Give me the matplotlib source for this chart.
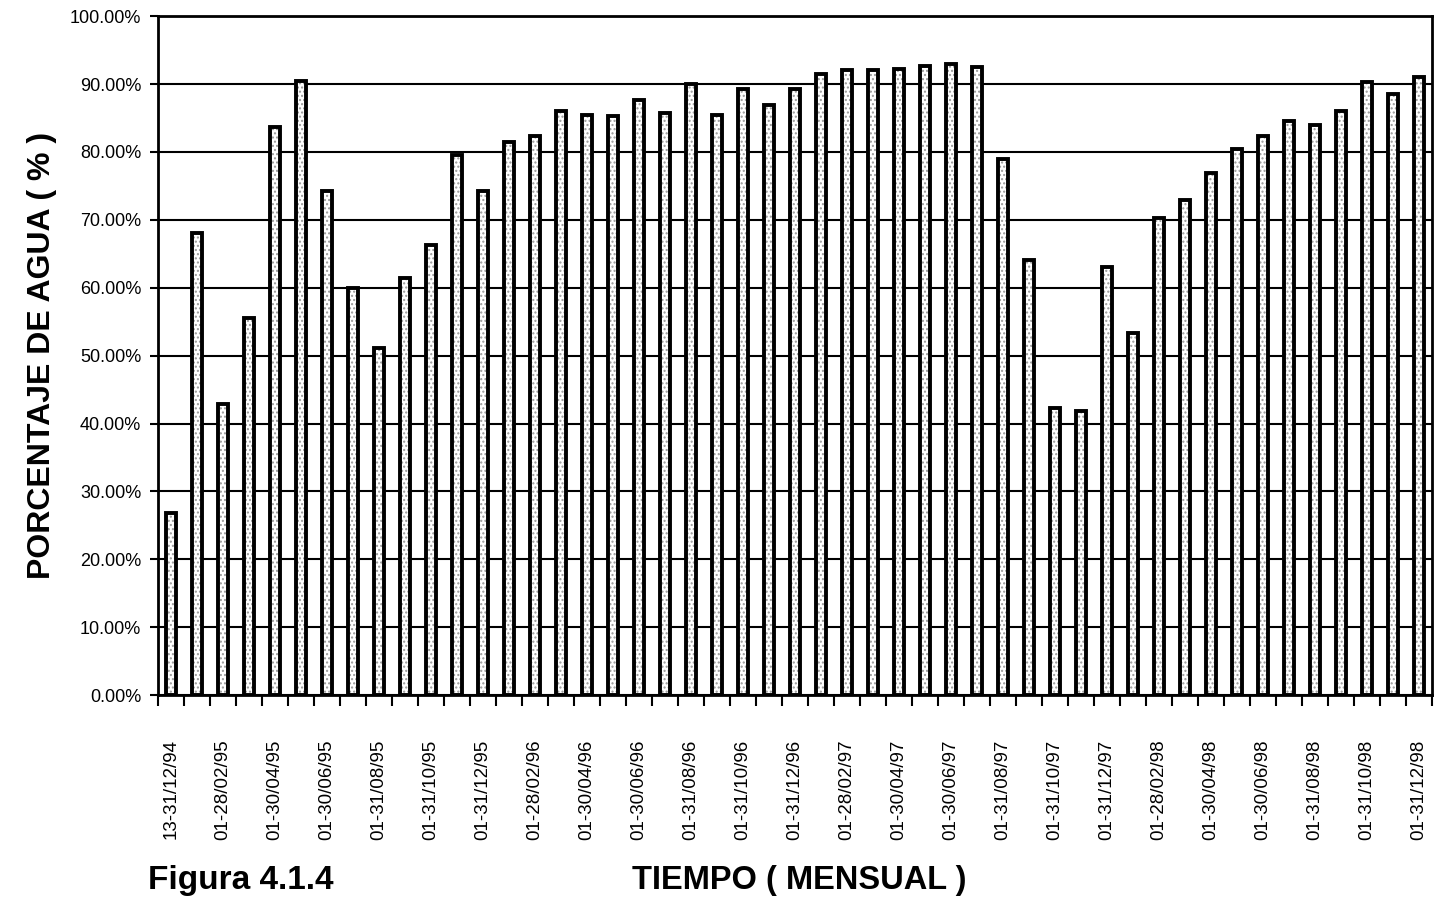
import numpy as np
import matplotlib.pyplot as plt

plt.rcParams['font.family'] = ['Liberation Sans', 'DejaVu Sans']

# monthly water percentage, Dec 94 .. Dec 98
valores = [26.8, 68.1, 42.9, 55.6, 83.7, 90.4, 74.2, 59.9, 51.1, 61.4,
           66.3, 79.6, 74.2, 81.5, 82.3, 86.1, 85.5, 85.3, 87.7, 85.8,
           90.0, 85.5, 89.3, 86.9, 89.3, 91.5, 92.1, 92.1, 92.2, 92.6,
           92.9, 92.5, 79.0, 64.1, 42.3, 41.8, 63.1, 53.4, 70.3, 72.9,
           76.9, 80.4, 82.3, 84.5, 84.0, 86.1, 90.3, 88.5, 91.1]

etiquetas = ['13-31/12/94', '01-28/02/95', '01-30/04/95', '01-30/06/95',
             '01-31/08/95', '01-31/10/95', '01-31/12/95', '01-28/02/96',
             '01-30/04/96', '01-30/06/96', '01-31/08/96', '01-31/10/96',
             '01-31/12/96', '01-28/02/97', '01-30/04/97', '01-30/06/97',
             '01-31/08/97', '01-31/10/97', '01-31/12/97', '01-28/02/98',
             '01-30/04/98', '01-30/06/98', '01-31/08/98', '01-31/10/98',
             '01-31/12/98']

fig = plt.figure(figsize=(14.35, 9.01), dpi=100)
ax = fig.add_axes([0.110, 0.2286, 0.888, 0.7534])

x = np.arange(len(valores))

ax.set_axisbelow(True)
ax.grid(axis='y', color='black', linewidth=1.5)

# stippled fill, then heavy black outline on top
ax.bar(x, valores, width=0.38, color='white', edgecolor='#999999',
       hatch='....', linewidth=0, zorder=2)
ax.bar(x, valores, width=0.38, fill=False, edgecolor='black',
       linewidth=2.8, zorder=3)

ax.set_xlim(-0.5, len(valores) - 0.5)
ax.set_ylim(0, 100)

ax.set_yticks(np.arange(0, 101, 10))
ax.set_yticklabels(['%.2f%%' % v for v in np.arange(0, 101, 10)], fontsize=13)
ax.tick_params(axis='y', length=6, width=1.5, direction='out', pad=6)

# ticks at category boundaries, labels on every second bar
ax.set_xticks(np.arange(len(valores) + 1) - 0.5)
ax.set_xticklabels([])
ax.tick_params(axis='x', which='major', length=8, width=1.5, direction='out')
ax.set_xticks(x[::2], minor=True)
ax.set_xticklabels(etiquetas, minor=True, rotation=90, fontsize=13.5)
ax.tick_params(axis='x', which='minor', length=0, pad=32)

for s in ax.spines.values():
    s.set_linewidth(2)
    s.set_color('black')

ax.set_ylabel('PORCENTAJE DE AGUA ( % )', fontsize=23, fontweight='bold')
ax.yaxis.set_label_coords(-0.079, 0.5)

fig.text(0.103, 0.023, 'Figura 4.1.4', fontsize=24, fontweight='bold',
         ha='left', va='center')
fig.text(0.557, 0.023, 'TIEMPO ( MENSUAL )', fontsize=23.5, fontweight='bold',
         ha='center', va='center')

fig.savefig('out.png', dpi=100)
